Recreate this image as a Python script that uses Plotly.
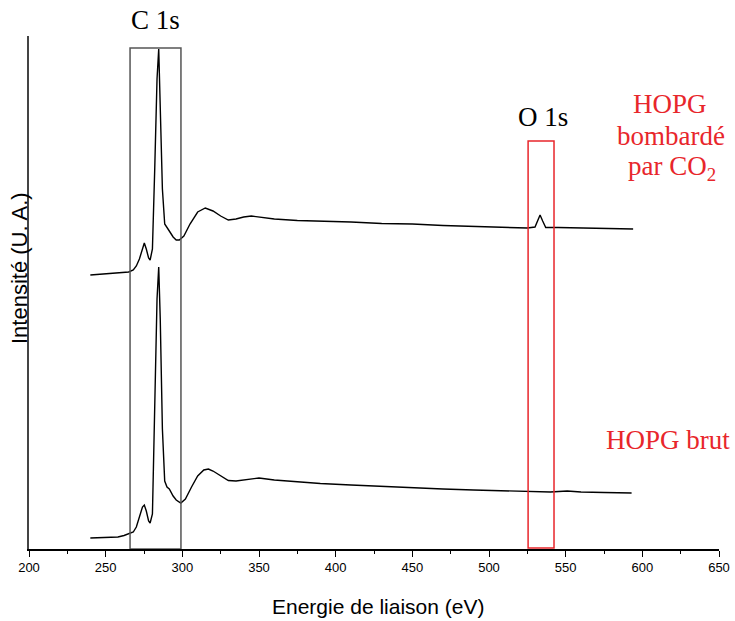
import plotly.graph_objects as go

# ---- data (binding energy in eV, intensity in arbitrary units) ----
energy_bombarde = [240, 250, 260, 265, 268, 270, 272, 274, 275.2, 276.5, 278, 279, 280.5, 282, 283.5,
                   284.6, 285.6, 287, 288.5, 290, 291.5, 294, 296, 298, 301, 305, 310, 315, 320, 325,
                   330, 335, 340, 345, 350, 360, 375, 390, 410, 430, 450, 470, 490, 510, 525, 530,
                   532, 533.3, 535, 537, 545, 560, 575, 594]
intens_bombarde = [274, 275, 276, 277, 279, 283, 290, 301, 306, 300, 291, 289, 300, 380, 470,
                   500, 450, 360, 325, 322, 318, 312, 309, 309, 313, 325, 337, 341, 338, 333,
                   329, 330, 332, 333, 332, 330, 328.5, 328, 327, 325.5, 325, 323.5, 322.5, 322, 321, 322,
                   330, 334, 328, 321.5, 321.5, 321, 320.5, 320]

energy_brut = [240, 258, 262, 265, 268, 270, 272, 274, 275.2, 276.5, 278, 279, 280.5, 282, 283.5,
               284.6, 285.6, 287, 288.5, 290, 291.5, 294, 296, 299, 302, 306, 310, 314, 317, 320,
               325, 330, 335, 340, 345, 350, 360, 375, 390, 410, 430, 450, 470, 490, 510, 525,
               540, 551, 560, 575, 593]
intens_brut = [11, 12, 13.5, 15.5, 17, 22, 32, 42, 44, 38, 28, 26, 35, 130, 250,
               282, 230, 120, 68, 62, 60, 53, 49, 46, 50, 62, 73, 79, 80, 78,
               73, 68.5, 68, 69, 70.5, 71, 69, 67, 65.5, 64, 62.5, 61, 60, 59, 58, 57.5,
               57, 58, 57, 56.5, 56]

x_ticks = [200, 250, 300, 350, 400, 450, 500, 550, 600, 650]

RED = "#e8262b"
SERIF = "Liberation Serif, Times New Roman, serif"
SANS = "Liberation Sans, Arial, sans-serif"

W, H = 735, 621
L, R, T, B = 29, 16, 36, 72
PW, PH = W - L - R, H - T - B

fig = go.Figure()
fig.add_trace(go.Scatter(x=energy_bombarde, y=intens_bombarde, mode="lines",
                         line=dict(color="black", width=1.4), showlegend=False))
fig.add_trace(go.Scatter(x=energy_brut, y=intens_brut, mode="lines",
                         line=dict(color="black", width=1.4), showlegend=False))

# highlight boxes
fig.add_shape(type="rect", x0=265.9, x1=299.1, y0=0, y1=501, xref="x", yref="y",
              line=dict(color="#555555", width=1.5))
fig.add_shape(type="rect", x0=525.5, x1=542.4, y0=1, y1=408, xref="x", yref="y",
              line=dict(color=RED, width=1.5))


def px(x, y):
    # window pixel -> paper (plot-area) coordinates
    return (x - L) / PW, (H - B - y) / PH


anns = [
    ("C 1s", 155, 20, "black", 27, SERIF, 0),
    ("O 1s", 543, 117, "black", 27, SERIF, 0),
    ("HOPG", 670, 104, RED, 27, SERIF, 0),
    ("bombardé", 671, 136, RED, 27, SERIF, 0),
    ("par CO<sub>2</sub>", 672, 168, RED, 27, SERIF, 0),
    ("HOPG brut", 668, 440, RED, 27, SERIF, 0),
    ("Energie de liaison (eV)", 378, 606, "black", 21, SANS, 0),
    ("Intensité (U. A.)", 19, 268, "black", 22, SANS, -90),
]
for text, x, y, col, size, fam, ang in anns:
    ax, ay = px(x, y)
    fig.add_annotation(text=text, x=ax, y=ay, xref="paper", yref="paper",
                       xanchor="center", yanchor="middle", showarrow=False,
                       textangle=ang, font=dict(color=col, size=size, family=fam))

fig.update_layout(
    width=W, height=H,
    margin=dict(l=L, r=R, t=T, b=B, autoexpand=False),
    plot_bgcolor="white", paper_bgcolor="white",
    xaxis=dict(range=[200, 650], tickvals=x_ticks, ticktext=[str(v) for v in x_ticks],
               automargin=False,
               showline=True, linecolor="black", linewidth=1.5, ticks="outside",
               ticklen=6, tickwidth=1.2, tickcolor="black", showgrid=False, zeroline=False,
               tickfont=dict(size=13, family=SANS, color="black"),
               minor=dict(ticks="outside", ticklen=3, dtick=25, tick0=200, tickcolor="black",
                          tickwidth=1, showgrid=False)),
    yaxis=dict(range=[0, 513], showline=True, linecolor="#444444", linewidth=2,
               automargin=False,
               showticklabels=False, ticks="", showgrid=False, zeroline=False),
)

fig.write_html("out.html", config={"displayModeBar": False},
               post_script="document.body.style.margin='0px';"
                           "document.body.style.padding='0px';"
                           "document.documentElement.style.overflow='hidden';")
